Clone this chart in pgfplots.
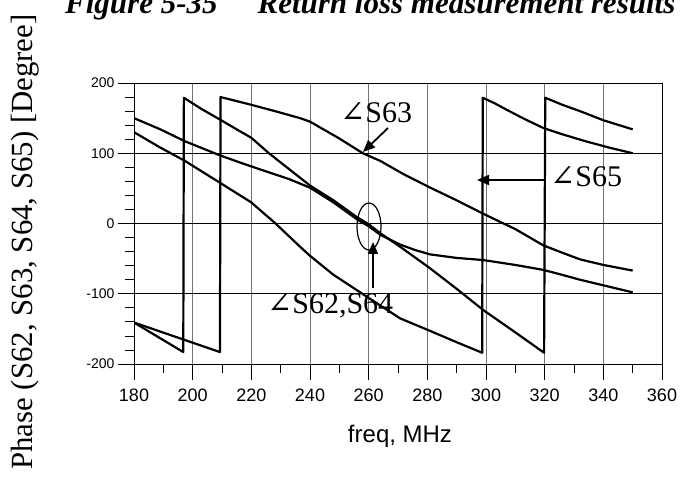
\documentclass[border=0pt]{standalone}
\usepackage{fontspec}
\setmainfont{Liberation Serif}
\newfontfamily\arial{Liberation Sans}
\newfontfamily\dejavu{DejaVu Serif}
\usepackage{pgfplots}
\pgfplotsset{compat=1.18}
\usetikzlibrary{arrows.meta}

\begin{document}
\begin{tikzpicture}[x=1pt,y=1pt]
\begin{axis}[
  scale only axis, width=528pt, height=281pt,
  at={(134pt,113pt)}, anchor=south west,
  xmin=180, xmax=360, ymin=-200, ymax=200,
  xtick={180,200,...,360}, ytick={-200,-100,...,200},
  minor x tick num=1, minor y tick num=4,
  tick pos=left, tick align=outside,
  major tick length=16pt, minor tick length=9pt,
  tick style={black, line width=0.8pt},
  axis line style={line width=0.9pt},
  xmajorgrids, ymajorgrids,
  x grid style={black!55, line width=0.7pt},
  y grid style={black, line width=0.8pt},
  /pgf/number format/assume math mode=true,
  xticklabel style={font=\arial\fontsize{18}{18}\selectfont, yshift=-5pt},
  yticklabel style={font=\arial\fontsize{14}{14}\selectfont},
  cycle list={{black, mark=none}},
  every axis plot/.append style={line width=2.2pt, line join=round},
]
% S62 (drops steeply, wraps at 197 and 320)
\addplot coordinates {(180,-141) (196.8,-183) (197,179) (203,163) (209.3,148)
  (215,134) (220,122) (226,100) (233,77) (240,54) (248,33) (256,9) (260,-1)
  (264,-14) (270.7,-33) (281,-64) (290,-93) (299,-123) (310,-155) (319.8,-184)
  (320.2,179) (326,169) (332,160) (340,147) (350,134)};
% S64 (flattens out)
\addplot coordinates {(180,150) (189,134) (197.4,117) (209.3,97) (216,87)
  (223,77) (233,63) (240,51) (248,30) (256,6) (260,-4) (264,-16) (270.7,-30)
  (276,-38) (281,-44) (290,-49) (299,-52) (310,-59) (319.5,-66) (325,-72)
  (332,-80) (340,-88) (350,-98)};
% S63
\addplot coordinates {(180,-141) (209.3,-183) (209.5,180) (219.5,169.5)
  (228,160) (236.6,150) (240,145) (245,133) (250,121) (258,100) (264,89)
  (272,70) (281,51) (290,33) (299,14) (310,-8) (319.5,-31) (325,-40) (332,-51)
  (340,-59) (350,-67)};
% S65
\addplot coordinates {(180,130) (189,108) (197.4,89) (209.3,58) (220,30)
  (223,19) (228,1) (236.6,-33) (240,-46) (248,-73) (259.3,-104) (270.7,-135)
  (281,-153) (290,-169) (298.7,-184) (298.9,179) (303,171) (307,162) (313,149)
  (319.5,136) (326,127) (334,117) (342,108) (350,100)};
\end{axis}

% annotations
\node[anchor=base west, inner sep=0, font=\fontsize{30}{30}\selectfont] at (340,354) {{\dejavu ∠}S63};
\draw[line width=1.8pt, -{Triangle[length=12pt,width=10pt]}] (388,349) -- (363,325);
\node[anchor=base west, inner sep=0, font=\fontsize{30}{30}\selectfont] at (550,290) {{\dejavu ∠}S65};
\draw[line width=1.8pt, -{Triangle[length=12pt,width=10pt]}] (545,297) -- (477,297);
\node[anchor=base west, inner sep=0, font=\fontsize{30}{30}\selectfont] at (267,164) {{\dejavu ∠}S62,S64};
\draw[line width=1.8pt, -{Triangle[length=12pt,width=10pt]}] (373,189) -- (373,235);
\draw[line width=1.2pt] (369,250.5) ellipse [x radius=12, y radius=23.5];

% labels
\node[rotate=90, font=\fontsize{30.8}{31}\selectfont] at (25,235) {Phase (S62, S63, S64, S65) [Degree]};
\node[anchor=base, font=\arial\fontsize{24}{24}\selectfont] at (400,35) {freq, MHz};
\node[anchor=base west, inner sep=0, font=\fontsize{31}{31}\selectfont\bfseries\itshape] at (65,463) {Figure 5-35\hspace{40pt}Return loss measurement results};

\pgfresetboundingbox
\useasboundingbox (0,0) rectangle (682,477);
\end{tikzpicture}
\end{document}
